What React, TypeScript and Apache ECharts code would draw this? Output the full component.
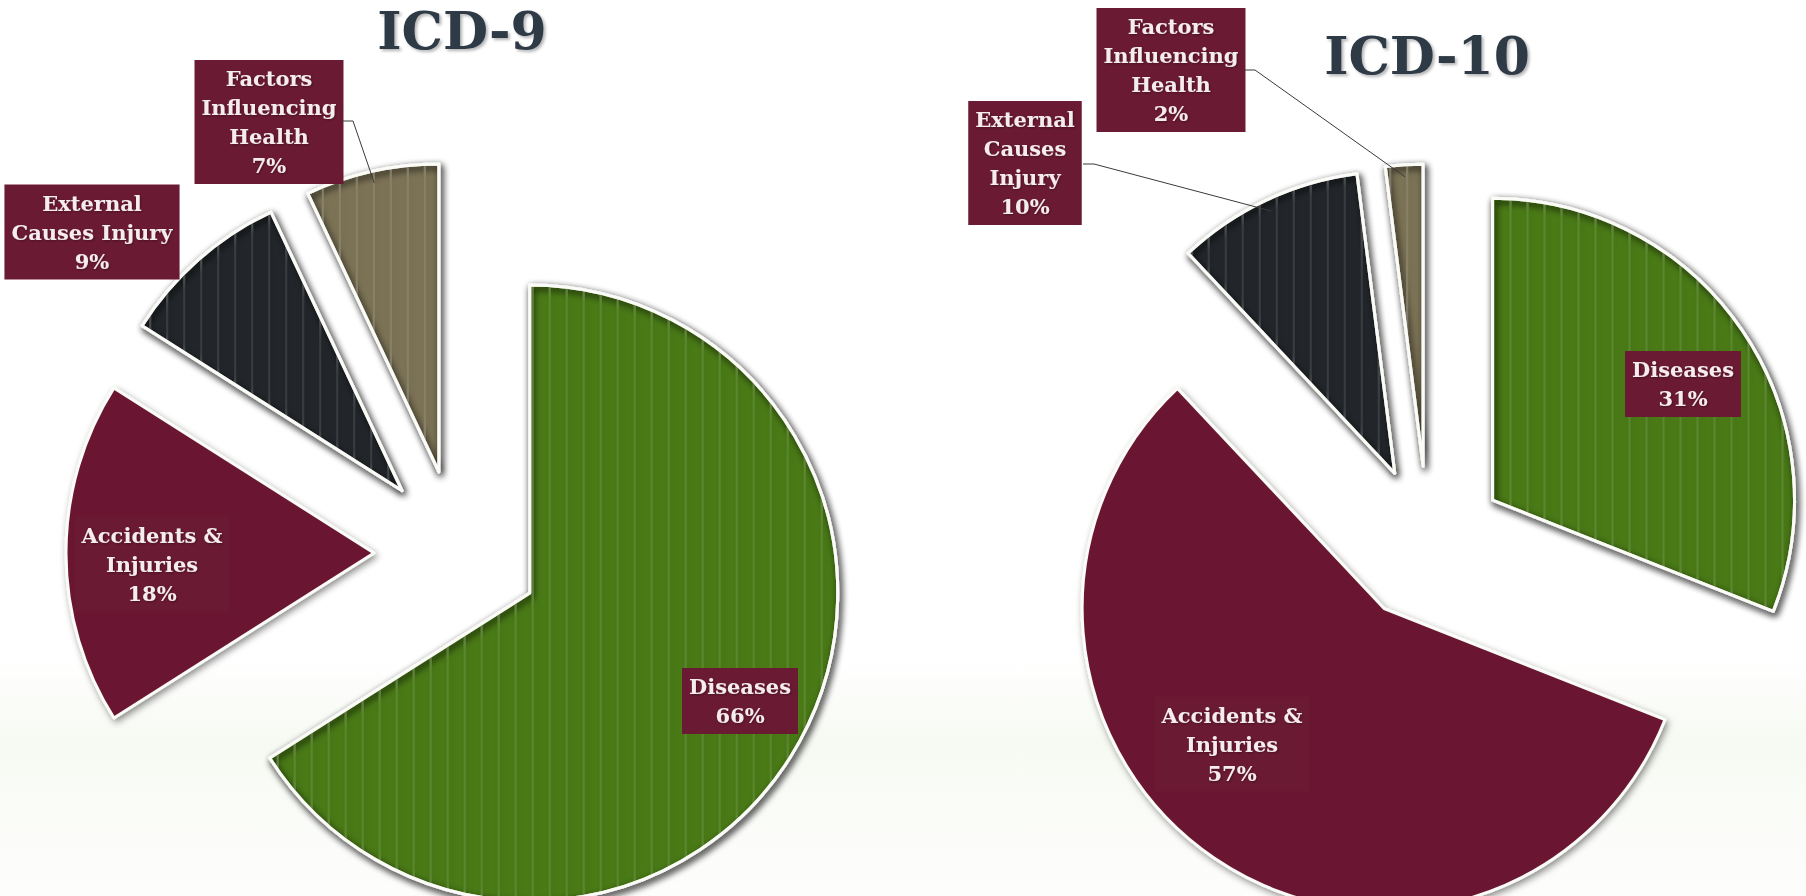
import React, { useEffect, useRef } from "react";
import * as echarts from "echarts";

// ---- data ----
const categories = ["Diseases", "Accidents & Injuries", "External Causes Injury", "Factors Influencing Health"];
const icd9Values = [66, 18, 9, 7];
const icd10Values = [31, 57, 10, 2];
const icd9LabelNames = ["Diseases", "Accidents &\nInjuries", "External\nCauses Injury", "Factors\nInfluencing\nHealth"];
const icd10LabelNames = ["Diseases", "Accidents &\nInjuries", "External\nCauses\nInjury", "Factors\nInfluencing\nHealth"];
const titles = ["ICD-9", "ICD-10"];

// ---- styles / layout ----
const sliceColors = ["#4a7a15", "#6a1832", "#21272b", "#7b7356"];
const sliceStriped = [true, false, true, true];
const icd9Center = [457, 553];
const icd10Center = [1428, 544];
const icd9Radius = 308;
const icd10Radius = 302;
const icd9Offset = 83;
const icd10Offset = 78;
const icd9LabelPos = [[740, 701], [152, 564], [92, 232], [269, 122]];
const icd10LabelPos = [[1683, 384], [1232, 744], [1025, 163], [1171, 70]];
// leader line start points (label box edge), null = no leader
const icd9LeaderStart: (number[] | null)[] = [null, null, null, [342, 121]];
const icd10LeaderStart: (number[] | null)[] = [null, null, [1083, 164], [1244, 70]];

const FONT = "'DejaVu Serif', 'Liberation Serif', serif";

function slicePie(values: number[], center: number[], radius: number, offset: number) {
  return {
    type: "pie",
    center,
    radius,
    startAngle: 90,
    clockwise: true,
    selectedMode: "multiple",
    selectedOffset: offset,
    z: 2,
    emphasis: { disabled: true },
    label: { show: false },
    labelLine: { show: false },
    itemStyle: {
      borderColor: "#fbfbf7",
      borderWidth: 3,
      shadowBlur: 7,
      shadowColor: "rgba(0,0,0,0.45)",
      shadowOffsetX: 2,
      shadowOffsetY: 3,
    },
    data: values.map((v, i) => ({
      name: categories[i],
      value: v,
      selected: true,
      itemStyle: {
        color: sliceColors[i],
        decal: sliceStriped[i]
          ? {
              symbol: "rect",
              symbolSize: 1,
              dashArrayX: [2, 15],
              dashArrayY: [4, 0],
              color: "rgba(255,255,255,0.09)",
              rotation: 0,
            }
          : undefined,
      },
      select: {
        itemStyle: { color: sliceColors[i], borderColor: "#fbfbf7", borderWidth: 3 },
      },
    })),
  };
}

function labelPie(values: number[], names: string[], labelPos: number[][], center: number[], radius: number) {
  return {
    type: "pie",
    center,
    radius,
    startAngle: 90,
    clockwise: true,
    silent: true,
    selectedMode: false,
    avoidLabelOverlap: false,
    z: 4,
    emphasis: { disabled: true },
    itemStyle: { color: "rgba(0,0,0,0)", borderWidth: 0 },
    labelLine: { show: false },
    label: {
      show: true,
      fontFamily: FONT,
      fontWeight: "bold",
      fontSize: 21,
      lineHeight: 29,
      color: "#f4ecee",
      backgroundColor: "#6b1a33",
      padding: [4, 7],
      align: "center",
      textShadowColor: "rgba(0,0,0,0.35)",
      textShadowBlur: 2,
      textShadowOffsetX: 1,
      textShadowOffsetY: 1,
    },
    labelLayout: (params: any) => {
      const p = labelPos[params.dataIndex];
      return { x: p[0], y: p[1], align: "center", verticalAlign: "middle" };
    },
    data: values.map((v, i) => ({
      name: categories[i],
      value: v,
      label: { formatter: names[i] + "\n" + v + "%" },
    })),
  };
}

function leaders(values: number[], starts: (number[] | null)[], center: number[], radius: number, offset: number) {
  const total = values.reduce((a, b) => a + b, 0);
  let cum = 0;
  const out: any[] = [];
  values.forEach((v, i) => {
    const phi = ((cum + v / 2) / total) * 2 * Math.PI;
    cum += v;
    const s = starts[i];
    if (!s) return;
    const t = radius + offset - 12;
    const ax = center[0] + t * Math.sin(phi);
    const ay = center[1] - t * Math.cos(phi);
    out.push({
      type: "polyline",
      z: 5,
      silent: true,
      shape: { points: [s, [s[0] + 11, s[1]], [ax, ay]] },
      style: { stroke: "#3a3a3a", lineWidth: 1, fill: "none" },
    });
  });
  return out;
}

export default function App() {
  const ref = useRef<HTMLDivElement>(null);

  useEffect(() => {
    if (!ref.current) return;
    const chart = echarts.init(ref.current, undefined, { renderer: "svg" });
    const titleStyle = {
      fontFamily: FONT,
      fontWeight: "bold",
      fontSize: 52,
      color: "#2e3a46",
      textShadowColor: "rgba(0,0,0,0.3)",
      textShadowBlur: 3,
      textShadowOffsetX: 2,
      textShadowOffsetY: 2,
    };
    chart.setOption({
      animation: false,
      backgroundColor: "#ffffff",
      title: [
        { text: titles[0], left: 462, top: 4, padding: 0, textAlign: "center", textStyle: titleStyle },
        { text: titles[1], left: 1427, top: 29, padding: 0, textAlign: "center", textStyle: titleStyle },
      ],
      graphic: [
        {
          type: "rect",
          z: 0,
          silent: true,
          shape: { x: 0, y: 660, width: 1806, height: 236 },
          style: {
            fill: new echarts.graphic.LinearGradient(0, 0, 0, 1, [
              { offset: 0, color: "rgba(238,244,230,0)" },
              { offset: 0.35, color: "rgba(238,244,230,0.5)" },
              { offset: 1, color: "rgba(246,249,242,0.2)" },
            ]),
          },
        },
        ...leaders(icd9Values, icd9LeaderStart, icd9Center, icd9Radius, icd9Offset),
        ...leaders(icd10Values, icd10LeaderStart, icd10Center, icd10Radius, icd10Offset),
      ],
      series: [
        slicePie(icd9Values, icd9Center, icd9Radius, icd9Offset),
        slicePie(icd10Values, icd10Center, icd10Radius, icd10Offset),
        labelPie(icd9Values, icd9LabelNames, icd9LabelPos, icd9Center, icd9Radius),
        labelPie(icd10Values, icd10LabelNames, icd10LabelPos, icd10Center, icd10Radius),
      ],
    });
    return () => chart.dispose();
  }, []);

  return (
    <div
      ref={ref}
      style={{ position: "fixed", left: 0, top: 0, width: 1806, height: 896 }}
    />
  );
}
